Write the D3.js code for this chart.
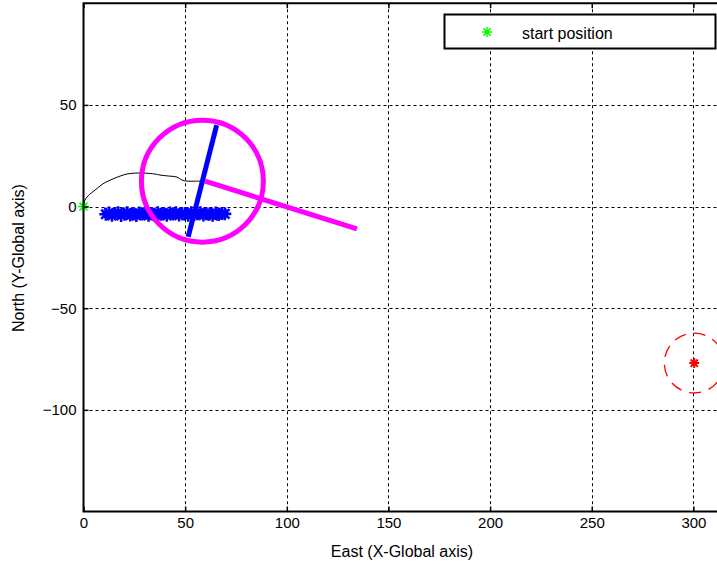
<!DOCTYPE html>
<html>
<head>
<meta charset="utf-8">
<script src="https://cdn.jsdelivr.net/npm/d3@7"></script>
<style>
  html, body { margin: 0; padding: 0; background: #fff; }
  svg { display: block; font-family: "Liberation Sans", Arial, sans-serif; }
</style>
</head>
<body>
<svg id="chart" width="717" height="567"></svg>
<script>
// Axis ticks
const xTicks = [0, 50, 100, 150, 200, 250, 300];
const yTicks = [-100, -50, 0, 50];

// Start position of the vehicle
const startPos = [0, 0];

// Travelled path (East, North)
const pathEast  = [0, 0.7, 3, 5.7, 9.6, 15.5, 21.4, 26.8, 29.3, 35.2, 37.6, 42, 46, 48.5, 51, 55, 58.8];
const pathNorth = [0, 3.2, 6, 8.1, 11.2, 14, 16, 16.5, 16.5, 16, 15.5, 15, 14.5, 13, 12.5, 12.5, 12.5];

// Detected points along the row
const hitEast  = [11, 12.5, 14, 15.5, 17, 18.5, 20, 21.5, 23, 24.5, 26, 27.5, 29, 30.5, 32, 33.5, 35, 36.5, 38, 39.5,
                  41, 42.5, 44, 45.5, 47, 48.5, 50, 51.5, 53, 54.5, 56, 57.5, 59, 60.5, 62, 63.5, 65, 66.5, 68, 69.5];
const hitNorth = [-3.8, -3.2, -4.3, -3.6, -3.0, -4.4, -3.7, -3.1, -4.2, -3.5, -4.4, -3.2, -3.7, -3.0, -4.3, -3.6, -4.1, -3.1, -3.8, -3.5,
                  -4.3, -3.2, -3.7, -3.1, -4.2, -3.6, -3.4, -4.3, -3.0, -3.8, -3.6, -3.1, -4.2, -3.5, -3.7, -4.3, -3.2, -3.9, -3.4, -3.6];

// Current vehicle state
const vehicle = [58.5, 12.5];
const vehicleRadius = 30;
const headingLine = [[51.5, -14.9], [65.5, 40]];
const bearingLine = [[59.8, 12.5], [134.5, -11]];

// Target and its acceptance circle
const target = [300.4, -77];
const targetRadius = 14.7;

const legendLabels = ["start position"];

const svg = d3.select("#chart");

const x = d3.scaleLinear().domain([0, 315]).range([83.5, 83.5 + 315 * 2.033]);
const y = d3.scaleLinear().domain([-150, 100]).range([511.5, 3.25]);

const plotLeft = x(0), plotRight = x(315), plotTop = y(100), plotBottom = y(-150);

// background
svg.append("rect").attr("x", plotLeft).attr("y", plotTop)
  .attr("width", plotRight - plotLeft).attr("height", plotBottom - plotTop).attr("fill", "#fff");

// grid
const grid = svg.append("g").attr("stroke", "#000").attr("stroke-width", 1).attr("stroke-dasharray", "3,3");
grid.selectAll(".gx").data(xTicks.filter(d => d > 0)).join("line")
  .attr("x1", d => Math.round(x(d)) + 0.5).attr("x2", d => Math.round(x(d)) + 0.5)
  .attr("y1", plotTop).attr("y2", plotBottom);
grid.selectAll(".gy").data(yTicks).join("line")
  .attr("y1", d => Math.round(y(d)) + 0.5).attr("y2", d => Math.round(y(d)) + 0.5)
  .attr("x1", plotLeft).attr("x2", plotRight);

// star marker path
function starPath(cx, cy, s) {
  const d = s * 0.72;
  return `M${cx - s},${cy}L${cx + s},${cy}M${cx},${cy - s}L${cx},${cy + s}` +
         `M${cx - d},${cy - d}L${cx + d},${cy + d}M${cx - d},${cy + d}L${cx + d},${cy - d}`;
}

// travelled path
const pathPts = pathEast.map((e, i) => [e, pathNorth[i]]);
svg.append("path")
  .attr("d", d3.line().x(d => x(d[0])).y(d => y(d[1])).curve(d3.curveCatmullRom)(pathPts))
  .attr("fill", "none").attr("stroke", "#000").attr("stroke-width", 1);

// detected points
svg.append("g").selectAll("path").data(hitEast.map((e, i) => [e, hitNorth[i]])).join("path")
  .attr("d", d => starPath(x(d[0]), y(d[1]), 6.5))
  .attr("fill", "none").attr("stroke", "#0000ff").attr("stroke-width", 2.6);

// vehicle circle
svg.append("circle")
  .attr("cx", x(vehicle[0])).attr("cy", y(vehicle[1]))
  .attr("r", x(vehicleRadius) - x(0))
  .attr("fill", "none").attr("stroke", "#ff00ff").attr("stroke-width", 5);

// bearing line
svg.append("line")
  .attr("x1", x(bearingLine[0][0])).attr("y1", y(bearingLine[0][1]))
  .attr("x2", x(bearingLine[1][0])).attr("y2", y(bearingLine[1][1]))
  .attr("stroke", "#ff00ff").attr("stroke-width", 5);

// heading line
svg.append("line")
  .attr("x1", x(headingLine[0][0])).attr("y1", y(headingLine[0][1]))
  .attr("x2", x(headingLine[1][0])).attr("y2", y(headingLine[1][1]))
  .attr("stroke", "#0000ff").attr("stroke-width", 5);

// target
svg.append("circle")
  .attr("cx", x(target[0])).attr("cy", y(target[1]))
  .attr("r", x(targetRadius) - x(0))
  .attr("fill", "none").attr("stroke", "#ff0000").attr("stroke-width", 1.3)
  .attr("stroke-dasharray", "12,8");
svg.append("path")
  .attr("d", starPath(x(target[0]), y(target[1]), 5))
  .attr("fill", "none").attr("stroke", "#ff0000").attr("stroke-width", 2);

// start marker
svg.append("path")
  .attr("d", starPath(x(startPos[0]), y(startPos[1]), 5.5))
  .attr("fill", "none").attr("stroke", "#00ff00").attr("stroke-width", 1.6);

// axes
const fontSize = "15px";
const xAxis = svg.append("g").attr("transform", `translate(0,${plotBottom})`)
  .call(d3.axisBottom(x).tickValues(xTicks).tickSize(-5).tickPadding(6).tickFormat(d3.format("d")));
const xAxisTop = svg.append("g").attr("transform", `translate(0,${plotTop})`)
  .call(d3.axisTop(x).tickValues(xTicks).tickSize(-5).tickFormat(""));
const yAxis = svg.append("g").attr("transform", `translate(${plotLeft},0)`)
  .call(d3.axisLeft(y).tickValues(yTicks).tickSize(-5).tickPadding(7).tickFormat(d3.format("d")));
[xAxis, xAxisTop, yAxis].forEach(g => {
  g.select(".domain").remove();
  g.selectAll(".tick line").attr("stroke", "#000").attr("stroke-width", 1.5);
  g.selectAll("text").attr("font-size", fontSize).attr("fill", "#000")
    .attr("font-family", "'Liberation Sans', Arial, sans-serif");
});

// frame
svg.append("rect").attr("x", plotLeft).attr("y", plotTop)
  .attr("width", plotRight - plotLeft).attr("height", plotBottom - plotTop)
  .attr("fill", "none").attr("stroke", "#000").attr("stroke-width", 2);

// axis titles
svg.append("text").attr("x", 402).attr("y", 557).attr("text-anchor", "middle")
  .attr("font-size", "16px").attr("fill", "#000").text("East (X-Global axis)");
svg.append("text").attr("transform", "translate(24,258) rotate(-90)").attr("text-anchor", "middle")
  .attr("font-size", "16px").attr("fill", "#000").text("North (Y-Global axis)");

// legend
const legend = svg.append("g");
legend.append("rect").attr("x", 444.5).attr("y", 14.5).attr("width", 271).attr("height", 34)
  .attr("fill", "#fff").attr("stroke", "#000").attr("stroke-width", 2);
legend.append("path").attr("d", starPath(487, 32, 5))
  .attr("fill", "none").attr("stroke", "#00ff00").attr("stroke-width", 1.5);
legend.append("text").attr("x", 522).attr("y", 38.5).attr("font-size", "16px").attr("fill", "#000")
  .text(legendLabels[0]);
</script>
</body>
</html>
